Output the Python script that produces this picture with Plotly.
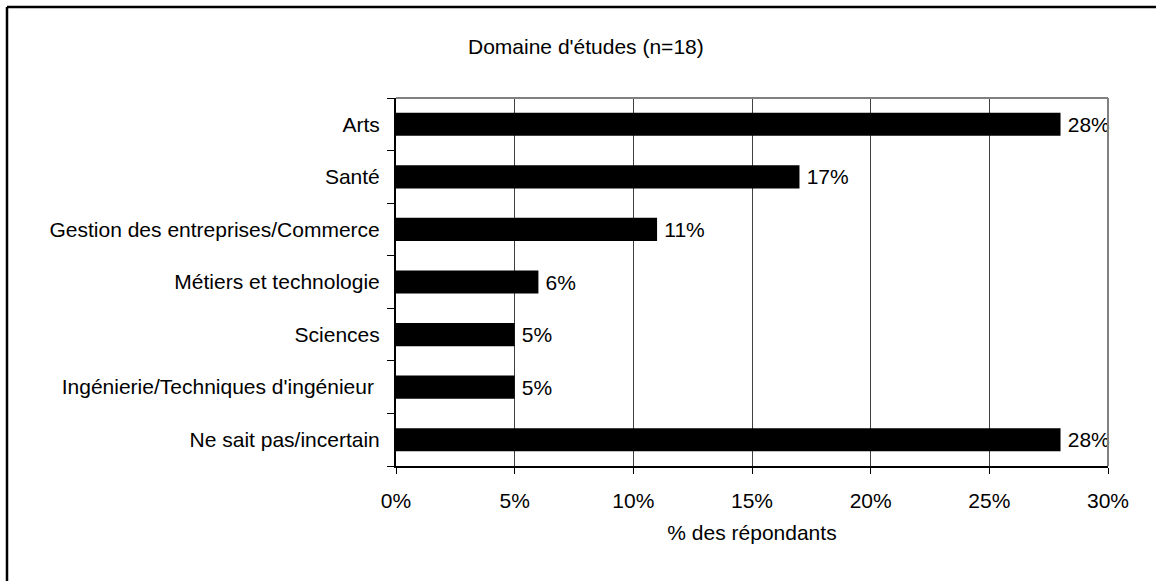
import plotly.graph_objects as go

# categories listed top to bottom as in the chart
categories = [
    "Arts",
    "Santé",
    "Gestion des entreprises/Commerce",
    "Métiers et technologie",
    "Sciences",
    "Ingénierie/Techniques d'ingénieur ",
    "Ne sait pas/incertain",
]
values = [28, 17, 11, 6, 5, 5, 28]
tick_vals = [0, 5, 10, 15, 20, 25, 30]
tick_text = ["0%", "5%", "10%", "15%", "20%", "25%", "30%"]

FONT = "Liberation Sans, Arial, sans-serif"
FS = 21

fig = go.Figure(go.Bar(
    x=values,
    y=categories,
    orientation="h",
    marker=dict(color="black", line=dict(width=0)),
    text=[f"\u2009{v}%" for v in values],
    textposition="outside",
    constraintext="none",
    cliponaxis=False,
    textfont=dict(family=FONT, size=FS, color="black"),
    width=0.44,
))

fig.update_layout(
    width=1156,
    height=581,
    margin=dict(l=396, r=48, t=98, b=115),
    paper_bgcolor="white",
    plot_bgcolor="white",
    font=dict(family=FONT, size=FS, color="black"),
    showlegend=False,
    xaxis=dict(
        range=[0, 30],
        tickvals=tick_vals,
        ticktext=tick_text,
        showgrid=True,
        gridcolor="#404040",
        gridwidth=1,
        showline=True,
        linecolor="black",
        linewidth=2,
        ticks="outside",
        ticklen=6,
        tickcolor="black",
        ticklabelstandoff=9,
        zeroline=False,
        title=dict(text="% des répondants", font=dict(size=FS), standoff=14),
    ),
    yaxis=dict(
        categoryorder="array",
        categoryarray=categories[::-1],
        autorange=False,
        range=[-0.5, len(categories) - 0.5],
        showline=True,
        linecolor="black",
        linewidth=2,
        ticks="outside",
        tickson="boundaries",
        ticklen=7,
        tickcolor="black",
        ticklabelstandoff=10,
        showgrid=False,
        zeroline=False,
    ),
    shapes=[
        # gray top and right edges of the plot area
        dict(type="line", xref="paper", yref="paper", x0=0, x1=1, y0=1, y1=1,
             line=dict(color="#808080", width=2)),
        dict(type="line", xref="paper", yref="paper", x0=1, x1=1, y0=0, y1=1,
             line=dict(color="#808080", width=2)),
        # outer frame (only left and top visible in the picture)
        dict(type="line", xref="paper", yref="paper",
             x0=-(396 - 7) / 712, x1=1.1, y0=1 + (98 - 7) / 368, y1=1 + (98 - 7) / 368,
             line=dict(color="black", width=2.5)),
        dict(type="line", xref="paper", yref="paper",
             x0=-(396 - 7) / 712, x1=-(396 - 7) / 712, y0=-0.5, y1=1 + (98 - 7) / 368,
             line=dict(color="black", width=2.5)),
    ],
    annotations=[
        dict(text="Domaine d'études (n=18)", xref="paper", yref="paper",
             x=(586 - 396) / 712, y=1 + (98 - 47) / 368,
             xanchor="center", yanchor="middle", showarrow=False,
             font=dict(size=FS)),
    ],
)

fig.write_html("out.html", config={"displayModeBar": False},
               post_script="document.body.style.margin='0';")
